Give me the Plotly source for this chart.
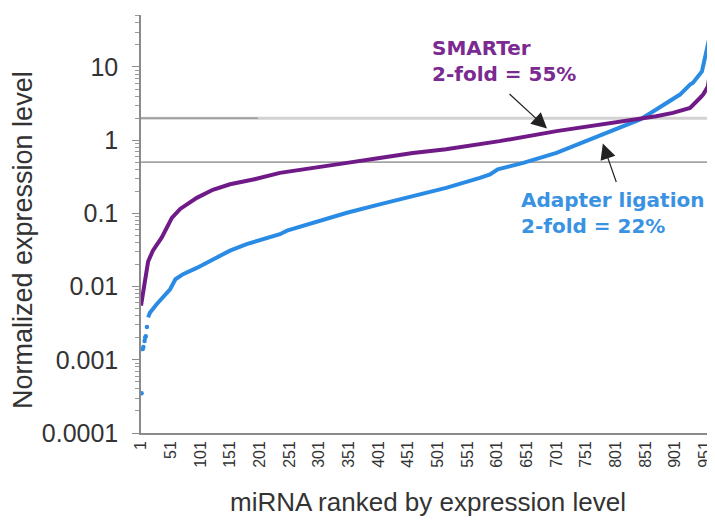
import plotly.graph_objects as go

# ---- data ----
smarter_rank = [1, 6, 13, 21, 36, 53, 67, 95, 122, 151, 190, 235, 269, 348, 403, 459,
                515, 589, 605, 701, 757, 813, 869, 897, 926, 943, 948, 956, 959]
smarter_value = [0.0055, 0.0097, 0.022, 0.031, 0.047, 0.087, 0.115, 0.163, 0.21, 0.25,
                 0.29, 0.358, 0.39, 0.49, 0.57, 0.67, 0.75, 0.92, 0.97, 1.33, 1.55,
                 1.82, 2.12, 2.36, 2.76, 3.8, 4.2, 5.4, 7.9]

adapter_low_rank = [2, 4, 5, 7, 8, 9, 11]
adapter_low_value = [0.00035, 0.0014, 0.0015, 0.0018, 0.0020, 0.0021, 0.0028]

adapter_rank = [13, 16, 27, 38, 50, 59, 72, 95, 122, 151, 179, 207, 235, 247, 291, 348,
                403, 459, 515, 572, 589, 602, 645, 701, 757, 813, 842, 869, 897, 909,
                926, 931, 946, 954, 959]
adapter_value = [0.0038, 0.0044, 0.0057, 0.0071, 0.0092, 0.0126, 0.0148, 0.018, 0.0235,
                 0.031, 0.038, 0.044, 0.052, 0.058, 0.074, 0.102, 0.133, 0.172, 0.223,
                 0.306, 0.34, 0.40, 0.49, 0.67, 1.02, 1.55, 1.92, 2.62, 3.6, 4.2, 5.75,
                 6.1, 8.7, 16.4, 26]

x_tick_vals = list(range(1, 1000, 50))
x_tick_text = [str(v) for v in x_tick_vals]
y_tick_vals = [0.0001, 0.001, 0.01, 0.1, 1, 10]
y_tick_text = ["0.0001", "0.001", "0.01", "0.1", "1", "10"]

upper_fold = 2.0
lower_fold = 0.5
n_ranks = 968
dark_segment_end = 198

# ---- styling ----
PURPLE = "#701a87"
BLUE = "#2a8be4"
AXIS = "#8a8a8a"
TXT = "#333333"

minor_vals = [m * 10 ** e for e in range(-4, 2) for m in range(2, 10) if m * 10 ** e <= 55]

fig = go.Figure()

# fold-change reference lines
fig.add_trace(go.Scatter(x=[1, n_ranks], y=[upper_fold, upper_fold], mode="lines",
                         line=dict(color="#d2d2d2", width=3), hoverinfo="skip", showlegend=False))
fig.add_trace(go.Scatter(x=[1, dark_segment_end], y=[upper_fold, upper_fold], mode="lines",
                         line=dict(color="#8c8c8c", width=1.3), hoverinfo="skip", showlegend=False))
fig.add_trace(go.Scatter(x=[1, n_ranks], y=[lower_fold, lower_fold], mode="lines",
                         line=dict(color="#a4a4a4", width=1.8), hoverinfo="skip", showlegend=False))

fig.add_trace(go.Scatter(x=adapter_rank, y=adapter_value, mode="lines", name="Adapter ligation",
                         line=dict(color=BLUE, width=4), showlegend=False))
fig.add_trace(go.Scatter(x=adapter_low_rank, y=adapter_low_value, mode="markers",
                         marker=dict(color=BLUE, size=4.5), showlegend=False))
fig.add_trace(go.Scatter(x=smarter_rank, y=smarter_value, mode="lines", name="SMARTer",
                         line=dict(color=PURPLE, width=4), showlegend=False))

# the page body adds an 8px offset; target pixel coordinates are in window space
OFF = 8
W, H = 715 - OFF, 521 - OFF
L, R, T, B = 141 - OFF, 0, 15 - OFF, 88
pw, ph = W - L - R, H - T - B


def px_x(p):
    return (p - OFF - L) / pw


def px_y(p):
    return (H - B - (p - OFF)) / ph


fig.update_layout(
    width=W, height=H,
    margin=dict(l=L, r=R, t=T, b=B),
    paper_bgcolor="white", plot_bgcolor="white",
    font=dict(family="Liberation Sans, Arial, sans-serif", color=TXT),
    xaxis=dict(range=[1, n_ranks], tickvals=x_tick_vals, ticktext=x_tick_text,
               tickangle=-90, ticks="", showgrid=False, zeroline=False,
               showline=True, linecolor=AXIS, linewidth=1.5, ticklabeloverflow="allow",
               tickfont=dict(size=16, color=TXT)),
    yaxis=dict(type="log", range=[-4, 1.71], tickvals=y_tick_vals, ticktext=y_tick_text,
               ticks="outside", ticklen=7, tickcolor=AXIS, tickwidth=1.3,
               ticklabelstandoff=9,
               showgrid=False, zeroline=False, showline=True, linecolor=AXIS, linewidth=1.5,
               tickfont=dict(size=25, color=TXT),
               minor=dict(tickvals=minor_vals, ticks="outside", ticklen=4,
                          tickcolor="#9a9a9a", tickwidth=1, showgrid=False)),
    annotations=[
        dict(xref="paper", yref="paper", x=px_x(23), y=px_y(240), text="Normalized expression level",
             textangle=-90, showarrow=False, font=dict(size=27, color=TXT),
             xanchor="center", yanchor="middle"),
        dict(xref="paper", yref="paper", x=px_x(428), y=px_y(502), text="miRNA ranked by expression level",
             showarrow=False, font=dict(size=26, color=TXT), xanchor="center", yanchor="middle"),
        dict(xref="paper", yref="paper", x=px_x(430), y=px_y(34), xanchor="left", yanchor="top",
             text="<b>SMARTer<br>2-fold = 55%</b>", align="left", showarrow=False,
             font=dict(family="DejaVu Sans", size=20, color="#7a2a90")),
        dict(xref="paper", yref="paper", x=px_x(519), y=px_y(186), xanchor="left", yanchor="top",
             text="<b>Adapter ligation<br>2-fold = 22%</b>", align="left", showarrow=False,
             font=dict(family="DejaVu Sans", size=20, color="#3a92e2")),
        dict(x=685, y=0.158, xref="x", yref="y", text="", showarrow=True,
             ax=-39, ay=-36, arrowhead=2, arrowsize=2.6, arrowwidth=1.2, arrowcolor="#222"),
        dict(x=779, y=-0.046, xref="x", yref="y", text="", showarrow=True,
             ax=14, ay=40, arrowhead=2, arrowsize=2.6, arrowwidth=1.2, arrowcolor="#222"),
    ],
)

fig.write_html("out.html")
